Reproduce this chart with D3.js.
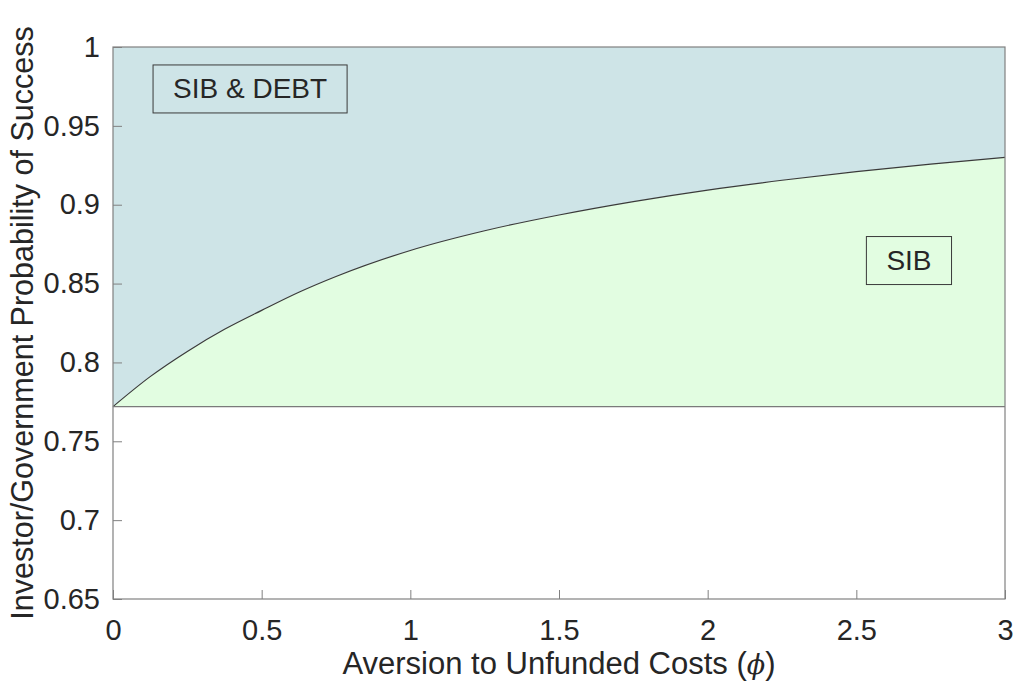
<!DOCTYPE html>
<html>
<head>
<meta charset="utf-8">
<script src="https://cdn.jsdelivr.net/npm/d3@7"></script>
<style>
  body { margin: 0; background: #fff; }
  text { font-family: "Liberation Sans Narrow", "Liberation Sans", Arial, sans-serif; fill: #262626; }
</style>
</head>
<body>
<div id="chart"></div>
<script>
// boundary between the two regions
var phi      = [0, 0.125, 0.25, 0.375, 0.5, 0.625, 0.75, 1.0, 1.25, 1.5, 1.75, 2.0, 2.25, 2.5, 2.75, 3.0]
var boundary = [0.772, 0.791, 0.807, 0.821, 0.833, 0.8445, 0.8545, 0.871, 0.8835, 0.8935, 0.902, 0.9093, 0.9155, 0.921, 0.9257, 0.930]
var floorValue = 0.772
var xTicks = [0, 0.5, 1, 1.5, 2, 2.5, 3]
var yTicks = [0.65, 0.7, 0.75, 0.8, 0.85, 0.9, 0.95, 1]
var regionLabels = [
  { text: "SIB & DEBT", x: 0.461, y: 0.9734 },
  { text: "SIB", x: 2.677, y: 0.8646 }
]

var width = 1016, height = 681
var margin = { left: 113, right: 11, top: 47, bottom: 82 }

var svg = d3.select("#chart").append("svg")
  .attr("width", width)
  .attr("height", height)

var x = d3.scaleLinear().domain([0, 3]).range([margin.left, width - margin.right])
var y = d3.scaleLinear().domain([0.65, 1]).range([height - margin.bottom, margin.top])

var pts = phi.map(function(p, i) { return [p, boundary[i]] })

// upper region: SIB & DEBT
var upper = d3.area()
  .x(function(d) { return x(d[0]) })
  .y0(function(d) { return y(d[1]) })
  .y1(y(1))
  .curve(d3.curveMonotoneX)

// lower region: SIB
var lower = d3.area()
  .x(function(d) { return x(d[0]) })
  .y0(y(floorValue))
  .y1(function(d) { return y(d[1]) })
  .curve(d3.curveMonotoneX)

svg.append("path").attr("d", upper(pts)).attr("fill", "#cee4e7")
svg.append("path").attr("d", lower(pts)).attr("fill", "#e2fde1")

svg.append("path")
  .attr("d", d3.line().x(function(d) { return x(d[0]) }).y(function(d) { return y(d[1]) }).curve(d3.curveMonotoneX)(pts))
  .attr("fill", "none")
  .attr("stroke", "#3a3a3a")
  .attr("stroke-width", 1.2)

svg.append("line")
  .attr("x1", x(0)).attr("x2", x(3))
  .attr("y1", y(floorValue)).attr("y2", y(floorValue))
  .attr("stroke", "#7a7a7a").attr("stroke-width", 1.2)

// axes
var xAxis = d3.axisBottom(x).tickValues(xTicks).tickSize(-9).tickPadding(20)
  .tickFormat(function(d) { return d3.format("")(d) })
var yAxis = d3.axisLeft(y).tickValues(yTicks).tickSize(-9).tickPadding(13)
  .tickFormat(function(d) { return d3.format("")(d) })

var gx = svg.append("g").attr("transform", "translate(0," + y(0.65) + ")").call(xAxis)
var gy = svg.append("g").attr("transform", "translate(" + x(0) + ",0)").call(yAxis)

;[gx, gy].forEach(function(g) {
  g.attr("font-family", null).attr("font-size", null)
  g.select(".domain").remove()
  g.selectAll(".tick line").attr("stroke", "#808080").attr("stroke-width", 1)
  g.selectAll(".tick text").attr("font-size", 29).style("fill", "#262626")
})

// box
svg.append("rect")
  .attr("x", x(0)).attr("y", y(1))
  .attr("width", x(3) - x(0)).attr("height", y(0.65) - y(1))
  .attr("fill", "none").attr("stroke", "#808080").attr("stroke-width", 1.2)

// region labels with boxes
regionLabels.forEach(function(l) {
  var t = svg.append("text")
    .attr("x", x(l.x)).attr("y", y(l.y))
    .attr("font-size", 28)
    .attr("text-anchor", "middle")
    .attr("dominant-baseline", "central")
    .text(l.text)
  var bb = t.node().getBBox()
  svg.append("rect")
    .attr("x", bb.x - 20).attr("y", y(l.y) - 24)
    .attr("width", bb.width + 40).attr("height", 48)
    .attr("fill", "none").attr("stroke", "#3a3a3a").attr("stroke-width", 1)
})

// axis titles
svg.append("text")
  .attr("x", x(1.5)).attr("y", 674)
  .attr("text-anchor", "middle")
  .attr("font-size", 31)
  .html("Aversion to Unfunded Costs (<tspan font-style='italic' font-family='DejaVu Serif' font-size='27'>&#981;</tspan>)")

svg.append("text")
  .attr("transform", "translate(33," + ((y(1) + y(0.65)) / 2) + ") rotate(-90)")
  .attr("text-anchor", "middle")
  .attr("font-size", 30.5)
  .text("Investor/Government Probability of Success")
</script>
</body>
</html>
